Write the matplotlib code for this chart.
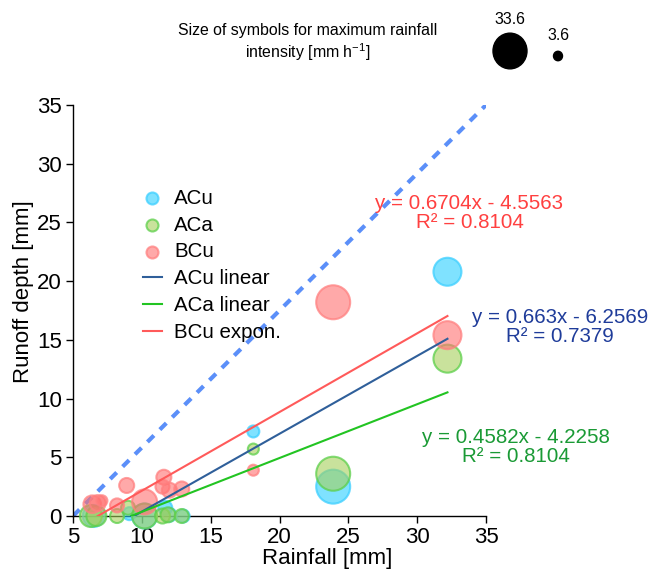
import numpy as np
import matplotlib
matplotlib.use("Agg")
import matplotlib.pyplot as plt

plt.rcParams['font.family'] = ['Liberation Sans', 'DejaVu Sans']

# ---- data ----
acu_x = [32.2, 18.1, 23.9, 6.5, 9.1, 10.2, 11.7, 12.0, 13.0]
acu_y = [20.8, 7.2, 2.5, 0.0, 0.2, 0.0, 0.7, 0.1, 0.0]
acu_i = [26.4, 7.2, 33.6, 19.2, 8.4, 22.8, 9.6, 9.6, 8.4]

aca_x = [32.2, 18.1, 23.9, 6.3, 6.7, 8.2, 9.0, 10.2, 11.5, 11.9, 12.9]
aca_y = [13.4, 5.7, 3.6, 0.0, 0.0, 0.0, 0.7, 0.0, 0.0, 0.1, 0.0]
aca_i = [26.4, 6.0, 33.6, 19.2, 16.8, 9.6, 9.6, 22.8, 10.8, 10.8, 9.6]

bcu_x = [32.2, 18.1, 23.9, 6.4, 6.8, 7.1, 8.2, 8.9, 10.2, 11.6, 11.5, 12.0, 12.9]
bcu_y = [15.4, 3.9, 18.2, 1.0, 1.1, 1.3, 0.9, 2.6, 1.2, 3.3, 2.5, 2.2, 2.3]
bcu_i = [26.4, 6.0, 33.6, 14.0, 12.0, 6.0, 9.6, 10.8, 22.8, 10.8, 9.6, 10.8, 10.8]

# regression fits (slope, intercept, R2)
acu_fit = (0.663, -6.2569, 0.7379)
aca_fit = (0.4582, -4.2258, 0.8104)
bcu_fit = (0.6704, -4.5563, 0.8104)
fit_xmax = 32.2

one_to_one_x = [5, 35]
one_to_one_y = [0, 35]

legend_sizes = [33.6, 3.6]

# ---- style ----
def diam_px(i):
    return 6 + 0.833 * np.asarray(i)

def msize(i):
    return (diam_px(i) * 0.72) ** 2

c_acu_face, c_acu_edge = '#2ad0ff', '#3ccfff'
c_aca_face, c_aca_edge = '#a5d05a', '#5ccf4a'
c_bcu_face, c_bcu_edge = '#ff7171', '#ff8080'

W, H = 662, 575
fig = plt.figure(figsize=(W/100, H/100), dpi=100)
ax = fig.add_axes([73/W, 1-516/H, 413/W, 411/H])

ax.plot(one_to_one_x, one_to_one_y, color='#5b8ff9', lw=3, ls=(0, (2.2, 2.0)), zorder=1)

def scat(x, y, i, face, edge, label):
    ax.scatter(x, y, s=msize(i), facecolors=matplotlib.colors.to_rgba(face, 0.6),
               edgecolors=matplotlib.colors.to_rgba(edge, 0.75), linewidths=1.5,
               label=label, zorder=3, clip_on=False)

scat(acu_x, acu_y, acu_i, c_acu_face, c_acu_edge, 'ACu')
scat(aca_x, aca_y, aca_i, c_aca_face, c_aca_edge, 'ACa')
scat(bcu_x, bcu_y, bcu_i, c_bcu_face, c_bcu_edge, 'BCu')

def fitline(fit, color, label):
    a, b, _ = fit
    x0 = -b / a
    xs = np.array([x0, fit_xmax])
    ax.plot(xs, a * xs + b, color=color, lw=1.5, label=label, zorder=4)

fitline(acu_fit, '#2f5f9a', 'ACu linear')
fitline(aca_fit, '#22c422', 'ACa linear')
fitline(bcu_fit, '#ff5a5a', 'BCu expon.')

def eq(fit, x, y, color):
    a, b, r2 = fit
    s = f"y = {a:g}x - {abs(b):g}\nR² = {r2:.4f}"
    ax.text(x, y, s, color=color, fontsize=14.8, ha='center', va='center',
            multialignment='center', linespacing=1.0, clip_on=False)

eq(bcu_fit, 33.8, 25.8, '#ff4040')
eq(acu_fit, 40.4, 16.1, '#1f3c9a')
eq(aca_fit, 37.2, 5.9, '#1a9a35')

ax.set_xlim(5, 35)
ax.set_ylim(0, 35)
ax.set_xticks(range(5, 36, 5))
ax.set_yticks(range(0, 36, 5))
ax.tick_params(labelsize=16, direction='out', length=5, width=1, pad=3)
for sp in ['top', 'right']:
    ax.spines[sp].set_visible(False)
ax.spines['left'].set_linewidth(1)
ax.spines['bottom'].set_linewidth(1)
ax.set_xlabel('Rainfall [mm]', fontsize=16)
ax.set_ylabel('Runoff depth [mm]', fontsize=16)
ax.xaxis.set_label_coords(0.615, -0.078)
ax.yaxis.set_label_coords(-0.094, 0.545)

leg = ax.legend(loc='upper left', bbox_to_anchor=(0.15, 0.816), frameon=False,
                fontsize=14.8, handlelength=0.9, handletextpad=0.6,
                labelspacing=0.38, borderaxespad=0)
for h in leg.legend_handles[:3]:
    h.set_sizes([(12 * 0.72) ** 2])

# size key at the top
fig.text(308/W, 1-43/H, 'Size of symbols for maximum rainfall\nintensity [mm h$^{\\mathregular{-1}}$]',
         ha='center', va='center', fontsize=11.4, linespacing=1.25)
key_x = [510/W, 558/W]
key_y = [1-51/H, 1-56/H]
for kx, ky, ks in zip(key_x, key_y, legend_sizes):
    d = float(diam_px(ks))
    fig.add_artist(matplotlib.patches.Ellipse((kx, ky), d/W, 1.05*d/H,
                   transform=fig.transFigure, color='black'))
fig.text(key_x[0], 1-19/H, f"{legend_sizes[0]}", ha='center', va='center', fontsize=11.4)
fig.text(key_x[1], 1-36/H, f"{legend_sizes[1]}", ha='center', va='center', fontsize=11.4)

fig.savefig('out.png', dpi=100)
